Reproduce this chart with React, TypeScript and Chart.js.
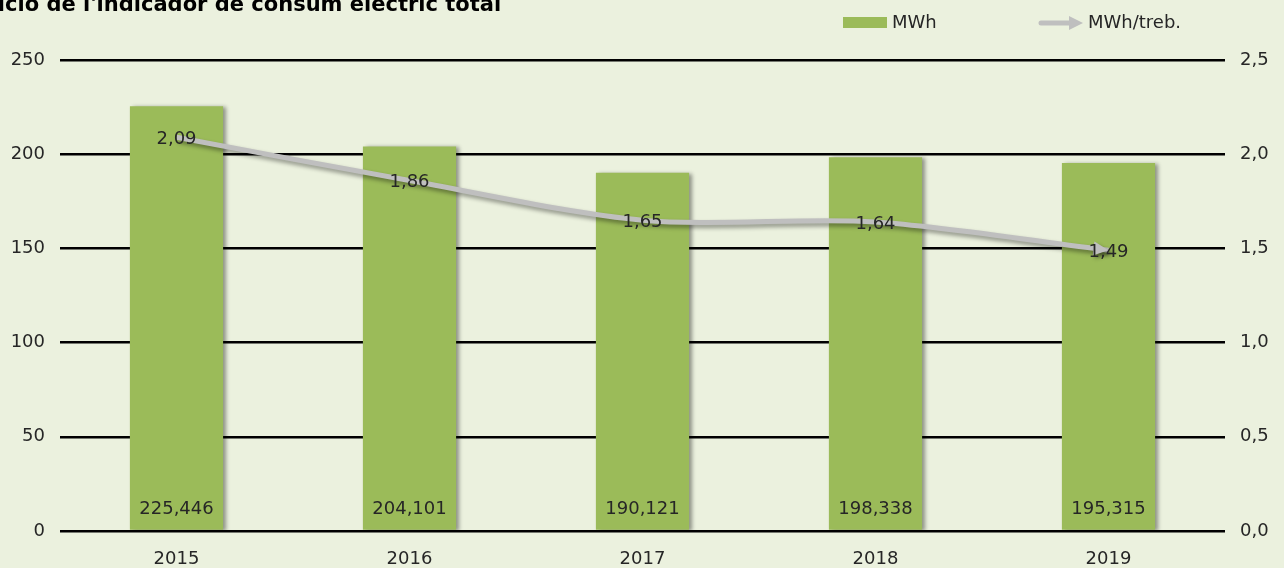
import React, { useEffect, useRef } from "react";
import { Chart, registerables } from "chart.js";

Chart.register(...registerables);

const titleText = "Evolució de l'indicador de consum elèctric total";
const categories = ["2015", "2016", "2017", "2018", "2019"];
const mwhValues = [225.446, 204.101, 190.121, 198.338, 195.315];
const mwhPerWorker = [2.09, 1.86, 1.65, 1.64, 1.49];
const barLabel = "MWh";
const lineLabel = "MWh/treb.";

const FONT = '"DejaVu Sans", Verdana, sans-serif';
const TEXT = "#262626";
const BAR = "#9BBB59";
const LINE = "#BFBFBF";
const BG = "#EBF1DE";

const comma = (v: number, d: number) => v.toFixed(d).replace(".", ",");

const customPlugin = {
  id: "custom",
  beforeDatasetDraw(chart: any, args: any) {
    const ctx = chart.ctx;
    const ds = chart.data.datasets[args.index];
    ctx.save();
    if (ds.type === "bar") {
      ctx.shadowColor = "rgba(0,0,0,0.4)";
      ctx.shadowBlur = 4;
      ctx.shadowOffsetX = 3;
      ctx.shadowOffsetY = 1;
    } else {
      ctx.shadowColor = "rgba(0,0,0,0.4)";
      ctx.shadowBlur = 4;
      ctx.shadowOffsetX = 2;
      ctx.shadowOffsetY = 3;
    }
  },
  afterDatasetDraw(chart: any, args: any) {
    const ctx = chart.ctx;
    const ds = chart.data.datasets[args.index];
    if (ds.type === "line") {
      const meta = chart.getDatasetMeta(args.index);
      const pts = meta.data;
      const last = pts[pts.length - 1];
      const prev = pts[pts.length - 2];
      let dx = last.x - (last.cp1x ?? prev.x);
      let dy = last.y - (last.cp1y ?? prev.y);
      const len = Math.hypot(dx, dy) || 1;
      dx /= len;
      dy /= len;
      const L = 15, W = 7;
      const bx = last.x - dx * L, by = last.y - dy * L;
      ctx.fillStyle = LINE;
      ctx.beginPath();
      ctx.moveTo(last.x, last.y);
      ctx.lineTo(bx - dy * W, by + dx * W);
      ctx.lineTo(bx + dy * W, by - dx * W);
      ctx.closePath();
      ctx.fill();
    }
    ctx.restore();
  },
  afterDatasetsDraw(chart: any) {
    const ctx = chart.ctx;
    ctx.save();
    ctx.font = `18px ${FONT}`;
    ctx.fillStyle = TEXT;
    ctx.textAlign = "center";
    ctx.textBaseline = "middle";
    chart.data.datasets.forEach((ds: any, i: number) => {
      const meta = chart.getDatasetMeta(i);
      meta.data.forEach((el: any, j: number) => {
        if (ds.type === "bar") {
          const base = chart.scales.y.getPixelForValue(0);
          ctx.fillText(comma(ds.data[j], 3), el.x, base - 22);
        } else {
          ctx.fillText(comma(ds.data[j], 2), el.x, el.y + 2);
        }
      });
    });
    ctx.restore();
  },
  afterDraw(chart: any) {
    const ctx = chart.ctx;
    ctx.save();
    // title (clipped at top-left like the reference)
    ctx.font = `bold 21px ${FONT}`;
    ctx.fillStyle = "#000";
    ctx.textAlign = "left";
    ctx.textBaseline = "alphabetic";
    const off = ctx.measureText("Evolu").width;
    ctx.fillText(titleText, 5 - off, 11);

    // legend
    ctx.font = `18px ${FONT}`;
    ctx.textBaseline = "middle";
    const bar = chart.data.datasets.find((d: any) => d.type === "bar");
    const line = chart.data.datasets.find((d: any) => d.type === "line");
    const ly = 23;
    ctx.fillStyle = BAR;
    ctx.fillRect(843, 17, 44, 11);
    ctx.fillStyle = TEXT;
    ctx.fillText(bar.label, 892, ly);
    ctx.strokeStyle = LINE;
    ctx.lineWidth = 5;
    ctx.lineCap = "round";
    ctx.beginPath();
    ctx.moveTo(1041, ly);
    ctx.lineTo(1072, ly);
    ctx.stroke();
    ctx.fillStyle = LINE;
    ctx.beginPath();
    ctx.moveTo(1083, ly);
    ctx.lineTo(1069, ly - 7);
    ctx.lineTo(1069, ly + 7);
    ctx.closePath();
    ctx.fill();
    ctx.fillStyle = TEXT;
    ctx.fillText(line.label, 1088, ly);
    ctx.restore();
  },
};

export default function App() {
  const ref = useRef<HTMLCanvasElement>(null);
  useEffect(() => {
    if (!ref.current) return;
    const chart = new Chart(ref.current, {
      type: "bar",
      data: {
        labels: categories,
        datasets: [
          {
            type: "line",
            label: lineLabel,
            data: mwhPerWorker,
            yAxisID: "y1",
            order: 0,
            borderColor: LINE,
            backgroundColor: LINE,
            borderWidth: 5,
            pointRadius: 0,
            tension: 0.3,
          } as any,
          {
            type: "bar",
            label: barLabel,
            data: mwhValues,
            yAxisID: "y",
            order: 1,
            backgroundColor: BAR,
            categoryPercentage: 1,
            barPercentage: 0.4,
          } as any,
        ],
      },
      options: {
        responsive: true,
        maintainAspectRatio: false,
        animation: false,
        layout: { padding: { top: 60, left: 0, right: 0, bottom: 0 } },
        plugins: { legend: { display: false }, tooltip: { enabled: false }, title: { display: false } },
        scales: {
          x: {
            grid: { display: false },
            border: { display: false },
            ticks: { font: { family: FONT, size: 18 }, color: TEXT, padding: 10 },
            afterFit: (s: any) => { s.height = 37; },
          },
          y: {
            position: "left",
            min: 0,
            max: 250,
            ticks: { stepSize: 50, padding: 15, font: { family: FONT, size: 18 }, color: TEXT },
            grid: { color: "#000", lineWidth: 2.5, drawTicks: false },
            border: { display: false },
            afterFit: (s: any) => { s.width = 60; },
          },
          y1: {
            position: "right",
            min: 0,
            max: 2.5,
            ticks: {
              stepSize: 0.5,
              padding: 15,
              font: { family: FONT, size: 18 },
              color: TEXT,
              callback: (v: any) => comma(Number(v), 1),
            },
            grid: { display: false, drawTicks: false },
            border: { display: false },
            afterFit: (s: any) => { s.width = 59; },
          },
        },
      } as any,
      plugins: [customPlugin],
    });
    return () => chart.destroy();
  }, []);
  return (
    <div style={{ position: "fixed", left: 0, top: 0, width: 1284, height: 568, background: BG }}>
      <canvas ref={ref} />
    </div>
  );
}
